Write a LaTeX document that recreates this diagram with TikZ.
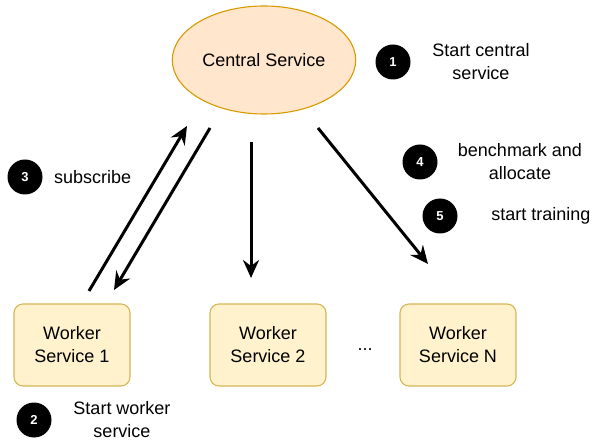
\documentclass[tikz,border=0pt]{standalone}
\usepackage{fontspec}
\setmainfont{Liberation Sans}
\usetikzlibrary{shapes.geometric,arrows.meta}
\definecolor{cfill}{HTML}{FFE6CC}
\definecolor{cdraw}{HTML}{D79B00}
\definecolor{wfill}{HTML}{FFF2CC}
\definecolor{wdraw}{HTML}{D6B656}
\begin{document}
\begin{tikzpicture}[x=1pt,y=-1pt,
  lbl/.style={font=\fontsize{18}{23}\selectfont, align=center, inner sep=0pt},
  worker/.style={draw=wdraw, fill=wfill, rounded corners=9pt, minimum width=116pt, minimum height=82pt, line width=1.1pt, font=\fontsize{18}{23}\selectfont, align=center},
  badge/.style={circle, fill=black, text=white, minimum size=35pt, inner sep=0pt, font=\bfseries\fontsize{13}{16}\selectfont},
  arr/.style={line width=3pt, -{Stealth[length=18pt,width=16pt,inset=6pt]}}
]
\useasboundingbox (0,0) rectangle (594,443);
\node[ellipse, draw=cdraw, fill=cfill, line width=1.1pt, minimum width=164pt, minimum height=108pt, font=\fontsize{18}{23}\selectfont] (central) at (264,60) {Central Service};
\node[worker] (w1) at (72,345) {Worker\\Service 1};
\node[worker] (w2) at (268,345) {Worker\\Service 2};
\node[worker] (wn) at (458,345) {Worker\\Service N};
\node[lbl] (dots) at (365,350) {...};

\coordinate (a1s) at (89,291);
\coordinate (a1e) at (187,126);
\coordinate (a2s) at (210,128);
\coordinate (a2e) at (114,290);
\coordinate (a3s) at (251,142);
\coordinate (a3e) at (251,278);
\coordinate (a4s) at (318,128);
\coordinate (a4e) at (428,264);
\draw[arr] (a1s) -- (a1e);
\draw[arr] (a2s) -- (a2e);
\draw[arr] (a3s) -- (a3e);
\draw[arr] (a4s) -- (a4e);

\node[badge] (b1) at (393,62) {1};
\node[lbl] (t1) at (481,62) {Start central\\service};
\node[badge] (b2) at (34,420) {2};
\node[lbl] (t2) at (122,420) {Start worker\\service};
\node[badge] (b3) at (25,177) {3};
\node[lbl, anchor=west] (t3) at (54,177) {subscribe};
\node[badge] (b4) at (420,162) {4};
\node[lbl] (t4) at (520,162) {benchmark and\\allocate};
\node[badge] (b5) at (440,216) {5};
\node[lbl] (t5) at (541,216) {start training};
\end{tikzpicture}
\end{document}
